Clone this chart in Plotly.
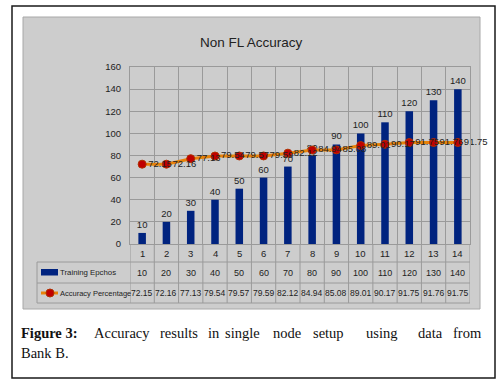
import plotly.graph_objects as go

categories = list(range(1, 15))
training_epochs = [10, 20, 30, 40, 50, 60, 70, 80, 90, 100, 110, 120, 130, 140]
accuracy = [72.15, 72.16, 77.13, 79.54, 79.57, 79.59, 82.12, 84.94, 85.08, 89.01, 90.17, 91.75, 91.76, 91.75]
y_ticks = [0, 20, 40, 60, 80, 100, 120, 140, 160]
series_names = ["Training Epchos", "Accuracy Percentage"]
title_text = "Non FL Accuracy"

NAVY = "#00237F"
ORANGE = "#E8820A"
RED = "#C00000"
GRAY_BG = "#CDCDCD"
GRID = "#9A9A9A"
TXT = "#222222"
SANS = "Liberation Sans Narrow, Liberation Sans, Arial, sans-serif"
SERIF = "Liberation Serif, DejaVu Serif, serif"

W, H = 503, 384
L, R, T, B = 130, 33, 67, 140
PW, PH = W - L - R, H - T - B


def px(x):
    return (x - L) / PW


def py(y):
    return (H - B - y) / PH


fig = go.Figure()
fig.add_trace(go.Bar(
    x=categories, y=training_epochs, name=series_names[0],
    marker=dict(color=NAVY, line=dict(width=0)), width=0.31,
    text=[str(v) for v in training_epochs], textposition="outside", constraintext="none",
    textfont=dict(family=SANS, size=9.5, color=TXT), cliponaxis=False,
))
fig.add_trace(go.Scatter(
    x=categories, y=accuracy, name=series_names[1], mode="lines+markers+text",
    line=dict(color=ORANGE, width=3),
    marker=dict(color=RED, size=8, line=dict(color="#B03000", width=1)),
    text=[f"{v:.2f}" for v in accuracy], textposition="middle right",
    textfont=dict(family=SANS, size=9.5, color=TXT), cliponaxis=False,
))

shapes = []
# outer black frame
shapes.append(dict(type="rect", xref="paper", yref="paper", x0=px(12), x1=px(495), y0=py(378), y1=py(6),
                   line=dict(color="#1a1a1a", width=1.5), fillcolor="white", layer="below"))
# gray chart area
shapes.append(dict(type="rect", xref="paper", yref="paper", x0=px(23), x1=px(480), y0=py(309), y1=py(17),
                   line=dict(color="#A8A8A8", width=1), fillcolor=GRAY_BG, layer="below"))

# table lines
tbl_top = py(244)
r1 = py(262)
r2 = py(283)
r3 = py(303)
x_left = px(37)
for i in range(len(categories) + 1):
    xb = 0.5 + i
    shapes.append(dict(type="line", xref="x", yref="paper", x0=xb, x1=xb, y0=tbl_top, y1=r3,
                       line=dict(color=GRID, width=1)))
for yy in (r1, r2, r3):
    shapes.append(dict(type="line", xref="paper", yref="paper", x0=x_left, x1=1, y0=yy, y1=yy,
                       line=dict(color=GRID, width=1)))
shapes.append(dict(type="line", xref="paper", yref="paper", x0=x_left, x1=x_left, y0=r1, y1=r3,
                   line=dict(color=GRID, width=1)))
# legend keys
shapes.append(dict(type="rect", xref="paper", yref="paper", x0=px(41), x1=px(58), y0=py(275.5), y1=py(269),
                   line=dict(width=0), fillcolor=NAVY))
shapes.append(dict(type="line", xref="paper", yref="paper", x0=px(41), x1=px(58), y0=py(293), y1=py(293),
                   line=dict(color=ORANGE, width=3)))
shapes.append(dict(type="circle", xref="paper", yref="paper", x0=px(46), x1=px(54), y0=py(297), y1=py(289),
                   line=dict(color="#B03000", width=1), fillcolor=RED))

annotations = []
annotations.append(dict(text=title_text, xref="paper", yref="paper", x=px(251), y=py(42), showarrow=False,
                        font=dict(family=SANS, size=13.5, color=TXT), xanchor="center", yanchor="middle"))
row_y = [py(253), py(272.5), py(293)]
for i, c in enumerate(categories):
    annotations.append(dict(text=str(c), xref="x", yref="paper", x=c, y=row_y[0], showarrow=False,
                            font=dict(family=SANS, size=9.5, color=TXT), yanchor="middle"))
    annotations.append(dict(text=str(training_epochs[i]), xref="x", yref="paper", x=c, y=row_y[1], showarrow=False,
                            font=dict(family=SANS, size=9, color=TXT), yanchor="middle"))
    annotations.append(dict(text=f"{accuracy[i]:.2f}", xref="x", yref="paper", x=c, y=row_y[2], showarrow=False,
                            font=dict(family=SANS, size=8.5, color=TXT), yanchor="middle"))
annotations.append(dict(text=series_names[0], xref="paper", yref="paper", x=px(58), y=row_y[1], showarrow=False,
                        font=dict(family=SANS, size=7.8, color=TXT), xanchor="left", yanchor="middle"))
annotations.append(dict(text=series_names[1], xref="paper", yref="paper", x=px(58), y=row_y[2], showarrow=False,
                        font=dict(family=SANS, size=7.5, color=TXT), xanchor="left", yanchor="middle"))

# caption (justified by word positions)
caption_words = [("<b>Figure 3:</b>", 20), ("Accuracy", 93), ("results", 159), ("in", 207), ("single", 224),
                 ("node", 272), ("setup", 312), ("using", 365), ("data", 417), ("from", 452)]
for w, xx in caption_words:
    annotations.append(dict(text=w, xref="paper", yref="paper", x=px(xx - 1), y=py(333), showarrow=False,
                            font=dict(family=SERIF, size=14.5, color="#111"), xanchor="left", yanchor="middle"))
annotations.append(dict(text="Bank B.", xref="paper", yref="paper", x=px(19), y=py(353), showarrow=False,
                        font=dict(family=SERIF, size=14.5, color="#111"), xanchor="left", yanchor="middle"))

fig.update_layout(
    width=W, height=H, margin=dict(l=L, r=R, t=T, b=B, pad=0),
    paper_bgcolor="white", plot_bgcolor=GRAY_BG, showlegend=False,
    shapes=shapes, annotations=annotations,
    xaxis=dict(range=[0.5, 14.5], tickvals=[0.5 + i for i in range(15)], showticklabels=False,
               showgrid=True, gridcolor=GRID, gridwidth=1, zeroline=False, showline=True, linecolor=GRID,
               mirror=True, ticks=""),
    yaxis=dict(range=[0, 160], tickvals=y_ticks, showgrid=True, gridcolor=GRID, gridwidth=1, zeroline=False,
               showline=True, linecolor=GRID, mirror=True, ticks="", ticklabelstandoff=6,
               tickfont=dict(family=SANS, size=9.5, color=TXT)),
)

fig.write_html("out.html", config={"displayModeBar": False},
               post_script="document.body.style.margin='0';document.body.style.overflow='hidden';")
